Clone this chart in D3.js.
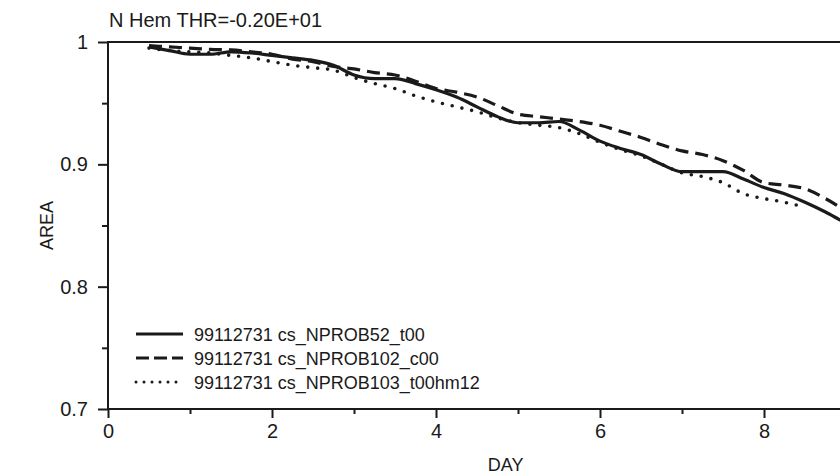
<!DOCTYPE html>
<html>
<head>
<meta charset="utf-8">
<script src="https://cdn.jsdelivr.net/npm/d3@7"></script>
<style>
  body { margin: 0; background: #fff; }
  svg { display: block; font-family: "Liberation Sans", Arial, sans-serif; }
</style>
</head>
<body>
<svg width="840" height="476"></svg>
<script>
const svg = d3.select("svg"),
  width = +svg.attr("width"),
  height = +svg.attr("height");

const title = "N Hem THR=-0.20E+01";

// days (x) shared by all runs
const days = [0.5, 0.75, 1, 1.25, 1.5, 1.75, 2, 2.25, 2.5, 2.75, 3, 3.25, 3.5, 3.75,
  4, 4.25, 4.5, 4.75, 5, 5.25, 5.5, 5.75, 6, 6.25, 6.5, 6.75, 7, 7.25, 7.5, 7.75,
  8, 8.25, 8.5, 8.75, 9, 9.25];

const areaT00 = [0.996, 0.993, 0.990, 0.990, 0.992, 0.991, 0.989, 0.987, 0.985, 0.981,
  0.973, 0.970, 0.970, 0.966, 0.961, 0.955, 0.947, 0.939, 0.934, 0.934, 0.935, 0.928,
  0.919, 0.913, 0.908, 0.900, 0.894, 0.894, 0.894, 0.888, 0.881, 0.876, 0.869, 0.861,
  0.852, 0.845];

const areaC00 = [0.997, 0.996, 0.995, 0.994, 0.9935, 0.992, 0.990, 0.986, 0.984, 0.980,
  0.978, 0.975, 0.973, 0.968, 0.962, 0.959, 0.955, 0.948, 0.941, 0.939, 0.937, 0.935,
  0.932, 0.927, 0.922, 0.916, 0.911, 0.908, 0.903, 0.895, 0.885, 0.883, 0.880, 0.872,
  0.862, 0.852];

const areaHm12 = [0.995, 0.993, 0.992, 0.991, 0.989, 0.987, 0.984, 0.981, 0.979, 0.977,
  0.971, 0.966, 0.962, 0.956, 0.951, 0.947, 0.943, 0.938, 0.934, 0.932, 0.930, 0.925,
  0.918, 0.912, 0.907, 0.900, 0.893, 0.890, 0.885, 0.876, 0.872, 0.869, 0.865];

const seriesNames = ["99112731 cs_NPROB52_t00", "99112731 cs_NPROB102_c00", "99112731 cs_NPROB103_t00hm12"];

const xMajor = [0, 2, 4, 6, 8];
const xMinor = [1, 3, 5, 7, 9];
const yMajor = [0.7, 0.8, 0.9, 1];
const yMajorLabels = ["0.7", "0.8", "0.9", "1"];
const yMinor = [0.75, 0.85, 0.95];

const ink = "#1a1a1a";

const x = d3.scaleLinear().domain([0, 10]).range([108, 928]);
const y = d3.scaleLinear().domain([0.7, 1]).range([409, 42]);

// frame: left axis, bottom axis, top line
svg.append("line").attr("x1", x(0)).attr("x2", width).attr("y1", y(0.7)).attr("y2", y(0.7))
  .attr("stroke", ink).attr("stroke-width", 2);
svg.append("line").attr("x1", x(0)).attr("x2", width).attr("y1", y(1)).attr("y2", y(1))
  .attr("stroke", ink).attr("stroke-width", 2);
svg.append("line").attr("x1", x(0)).attr("x2", x(0)).attr("y1", y(1) - 1).attr("y2", y(0.7) + 1)
  .attr("stroke", ink).attr("stroke-width", 2);

// x ticks
const xAxis = svg.append("g").attr("transform", `translate(0,${y(0.7)})`);
xAxis.call(d3.axisBottom(x).tickValues(xMajor).tickSize(9).tickPadding(6).tickFormat(d3.format("d")));
xAxis.append("g").call(d3.axisBottom(x).tickValues(xMinor).tickSize(5).tickFormat(""));
xAxis.selectAll(".domain").remove();
xAxis.selectAll("line").attr("stroke", ink).attr("stroke-width", 2);
xAxis.selectAll("text").attr("font-size", 20).attr("fill", ink).attr("font-family", null);

// y ticks
const yAxis = svg.append("g").attr("transform", `translate(${x(0)},0)`);
yAxis.call(d3.axisLeft(y).tickValues(yMajor).tickSize(10).tickPadding(10)
  .tickFormat((d, i) => yMajorLabels[i]));
yAxis.append("g").call(d3.axisLeft(y).tickValues(yMinor).tickSize(6).tickFormat(""));
yAxis.selectAll(".domain").remove();
yAxis.selectAll("line").attr("stroke", ink).attr("stroke-width", 2);
yAxis.selectAll("text").attr("font-size", 20).attr("fill", ink).attr("font-family", null);

// axis titles
svg.append("text").attr("x", x(4.85)).attr("y", 471).attr("text-anchor", "middle")
  .attr("font-size", 18).attr("fill", ink).text("DAY");
svg.append("text").attr("transform", `translate(53,${y(0.85)}) rotate(-90)`)
  .attr("text-anchor", "middle").attr("font-size", 18).attr("fill", ink).text("AREA");
svg.append("text").attr("x", 109).attr("y", 27).attr("font-size", 20).attr("fill", ink).text(title);

// curves
const styles = [
  { dash: null, cap: "butt", w: 3.2 },
  { dash: "13,7", cap: "butt", w: 3.2 },
  { dash: "0,10", cap: "round", w: 3.6 }
];
const allSeries = [areaT00, areaC00, areaHm12];

const line = d3.line()
  .x((d) => x(d[0]))
  .y((d) => y(d[1]))
  .curve(d3.curveMonotoneX);

allSeries.forEach((vals, i) => {
  const pts = vals.map((v, j) => [days[j], v]);
  svg.append("path")
    .datum(pts)
    .attr("fill", "none")
    .attr("stroke", ink)
    .attr("stroke-width", styles[i].w)
    .attr("stroke-linecap", styles[i].cap)
    .attr("stroke-dasharray", styles[i].dash)
    .attr("d", line);
});

// legend
const legend = svg.append("g");
seriesNames.forEach((name, i) => {
  const ly = 334 + i * 24;
  legend.append("line")
    .attr("x1", 136).attr("x2", 183).attr("y1", ly).attr("y2", ly)
    .attr("stroke", ink)
    .attr("stroke-width", i === 2 ? 3 : 3.2)
    .attr("stroke-linecap", styles[i].cap)
    .attr("stroke-dasharray", i === 1 ? "13,5" : i === 2 ? "0,8" : null);
  legend.append("text")
    .attr("x", 194).attr("y", ly + 7)
    .attr("font-size", 18).attr("fill", ink)
    .text(name);
});
</script>
</body>
</html>
